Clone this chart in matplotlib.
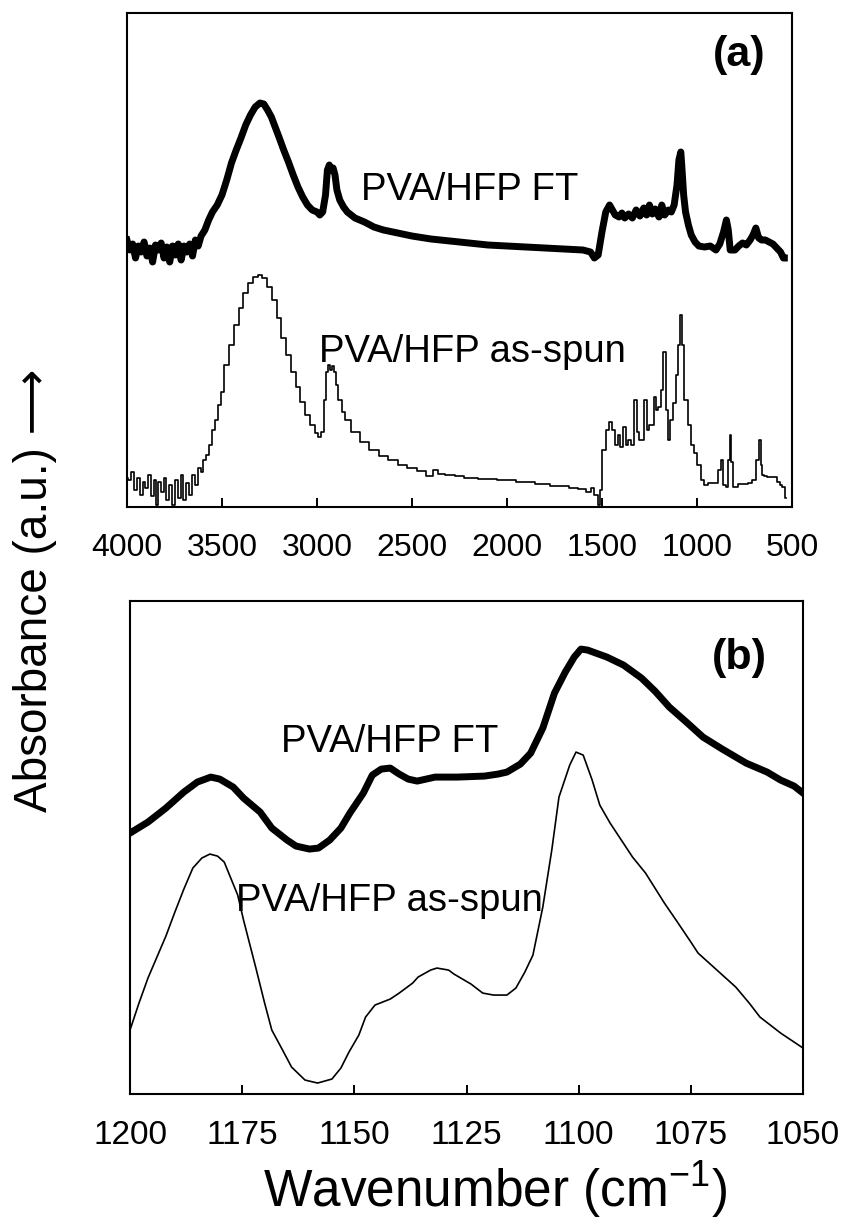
import matplotlib
matplotlib.use('Agg')
import matplotlib.pyplot as plt
import numpy as np

plt.rcParams['font.family'] = ['Liberation Sans', 'DejaVu Sans']
plt.rcParams['mathtext.fontset'] = 'custom'
plt.rcParams['mathtext.rm'] = 'Liberation Sans'

# panel (a) - full spectrum, absorbance in arbitrary units
wn_a_ft = [4000, 3985, 3970, 3955, 3940, 3925, 3910, 3895, 3880, 3865, 3850, 3835, 3820, 3805, 3790,
           3775, 3760, 3745, 3730, 3715, 3700, 3685, 3670, 3655, 3640, 3625, 3610, 3590, 3570, 3550,
           3525, 3500, 3475, 3450, 3425, 3400, 3375, 3350, 3325, 3300, 3280, 3260, 3240, 3220, 3200,
           3175, 3150, 3125, 3100, 3075, 3050, 3025, 3000, 2985, 2970, 2955, 2945, 2935, 2925, 2915,
           2905, 2895, 2880, 2860, 2840, 2800, 2750, 2700, 2650, 2600, 2500, 2400, 2300, 2200, 2100,
           2000, 1900, 1800, 1700, 1600, 1560, 1540, 1520, 1500, 1480, 1460, 1445, 1430, 1410, 1395,
           1380, 1360, 1340, 1320, 1300, 1280, 1265, 1250, 1235, 1220, 1200, 1185, 1170, 1150, 1135,
           1120, 1105, 1095, 1085, 1080, 1070, 1060, 1045, 1030, 1010, 990, 960, 930, 900, 880,
           860, 845, 835, 825, 800, 780, 760, 740, 720, 705, 690, 675, 660, 640, 620,
           600, 580, 560, 545, 540]
abs_a_ft = [267, 257, 263, 249, 261, 255, 265, 251, 259, 245, 262, 257, 264, 249, 260,
            245, 261, 252, 263, 247, 261, 255, 263, 251, 267, 261, 271, 277, 287, 295,
            302, 312, 327, 344, 357, 369, 382, 392, 400, 404, 403, 397, 390, 380, 370,
            357, 345, 332, 320, 310, 302, 297, 295, 292, 295, 312, 337, 342, 337, 339,
            332, 317, 307, 300, 295, 289, 285, 280, 277, 275, 271, 268, 266, 264, 262,
            261, 260, 259, 258, 257, 255, 249, 252, 275, 295, 302, 297, 292, 290, 294,
            289, 293, 289, 297, 291, 299, 292, 302, 293, 298, 290, 302, 292, 297, 295,
            302, 322, 347, 355, 342, 312, 295, 282, 272, 265, 261, 260, 261, 257, 263,
            275, 287, 277, 257, 257, 261, 264, 262, 267, 272, 279, 269, 267, 267, 265,
            263, 259, 255, 249, 249]

wn_a_as = [4000, 3985, 3970, 3955, 3940, 3925, 3910, 3895, 3880, 3865, 3850, 3840, 3830, 3815, 3800,
           3785, 3770, 3755, 3740, 3725, 3710, 3695, 3680, 3665, 3650, 3635, 3620, 3605, 3590, 3575,
           3560, 3545, 3530, 3515, 3500, 3475, 3450, 3425, 3400, 3375, 3350, 3325, 3300, 3275, 3250,
           3225, 3200, 3175, 3150, 3125, 3100, 3075, 3050, 3025, 3000, 2985, 2970, 2955, 2945, 2935,
           2925, 2915, 2905, 2895, 2880, 2860, 2840, 2800, 2750, 2700, 2650, 2600, 2550, 2500, 2450,
           2400, 2380, 2350, 2300, 2250, 2200, 2100, 2000, 1900, 1800, 1750, 1700, 1650, 1600, 1570,
           1550, 1530, 1515, 1505, 1490, 1470, 1455, 1440, 1425, 1410, 1395, 1380, 1370, 1355, 1340,
           1320, 1310, 1296, 1285, 1271, 1260, 1246, 1235, 1221, 1210, 1196, 1185, 1171, 1160, 1145,
           1135, 1120, 1105, 1095, 1083, 1075, 1057, 1040, 1020, 1007, 990, 970, 956, 930, 910,
           894, 880, 868, 855, 843, 833, 823, 815, 805, 793, 770, 750, 717, 700, 680,
           667, 660, 654, 640, 620, 592, 570, 560, 541, 530]
abs_a_as = [29, 27, 35, 17, 29, 12, 25, 19, 32, 11, 27, 2, 25, 15, 29,
            7, 22, 2, 27, 9, 32, 7, 24, 12, 32, 22, 39, 35, 47, 52,
            62, 77, 87, 102, 115, 142, 162, 182, 199, 214, 224, 230, 232, 229, 220,
            207, 189, 169, 152, 135, 120, 105, 92, 82, 74, 70, 75, 107, 135, 142,
            137, 141, 135, 122, 107, 95, 87, 75, 65, 57, 51, 47, 42, 39, 36,
            31, 37, 33, 32, 31, 29, 28, 27, 25, 23, 21, 21, 19, 18, 15,
            19, 12, 2, 17, 57, 77, 85, 77, 62, 72, 60, 80, 62, 67, 62,
            107, 75, 67, 67, 107, 77, 82, 82, 110, 97, 100, 117, 155, 97, 67,
            87, 104, 132, 162, 192, 162, 107, 82, 62, 54, 42, 27, 22, 24, 24,
            24, 37, 47, 22, 20, 47, 72, 45, 20, 20, 23, 23, 24, 27, 47,
            67, 42, 32, 31, 30, 30, 25, 22, 20, 9]

# panel (b) - 1200-1050 region
wn_b_ft = [1200, 1196, 1192, 1188, 1185, 1182, 1180, 1177, 1174.7, 1171, 1168.4, 1165, 1163, 1160,
           1158, 1155.5, 1153, 1151, 1148, 1146, 1144, 1142, 1140, 1138, 1136, 1134, 1132, 1127,
           1121, 1118, 1116, 1113, 1110.7, 1108, 1105.4, 1103, 1101, 1099.5, 1098, 1093.7, 1090,
           1086, 1083, 1079.8, 1076, 1072.3, 1068, 1062.7, 1058, 1055, 1052, 1050]
abs_b_ft = [261, 272, 286, 302, 312, 317, 315, 307, 296, 282, 266, 254, 248, 245,
            246, 254, 266, 281, 301, 319, 325, 326, 320, 315, 313, 315, 317, 317,
            318, 320, 322, 330, 341, 366, 401, 422, 437, 445, 444, 437, 429,
            416, 403, 387, 372, 357, 345, 331, 322, 314, 308, 301]

wn_b_as = [1200, 1198, 1196, 1194, 1192, 1190, 1188, 1186, 1184, 1182.2, 1180.5, 1179, 1178, 1176,
           1174.7, 1172, 1170, 1168.4, 1166, 1164, 1161, 1158.2, 1155, 1153, 1151.2, 1149, 1147.5,
           1145.4, 1142, 1140, 1137, 1135.8, 1133, 1131.6, 1129, 1127.8, 1124, 1121.4, 1119, 1116,
           1114, 1112, 1110.2, 1108, 1106, 1104.4, 1102, 1100.6, 1099, 1097, 1095.3, 1093, 1090.5,
           1088, 1085.1, 1083, 1080.9, 1078, 1075, 1073.4, 1069.2, 1065, 1062, 1059.6, 1055, 1052, 1050]
abs_b_as = [64, 91, 116, 137, 158, 182, 205, 226, 236, 240, 238, 232, 221, 199,
            174, 127, 91, 64, 44, 27, 14, 11, 15, 26, 42, 59, 77,
            89, 95, 101, 111, 117, 124, 126, 124, 120, 110, 101, 99, 99,
            106, 122, 139, 187, 244, 297, 329, 342, 339, 314, 289, 271, 254,
            237, 221, 206, 191, 172, 152, 141, 124, 107, 91, 77, 61, 52, 46]

ticks_a = [4000, 3500, 3000, 2500, 2000, 1500, 1000, 500]
ticks_b = [1200, 1175, 1150, 1125, 1100, 1075, 1050]


def style_axis(ax, xmin, xmax, ticks, ymax, size):
    ax.set_xlim(xmin, xmax)
    ax.set_ylim(0, ymax)
    ax.set_xticks(ticks)
    ax.set_yticks([])
    ax.tick_params(axis='x', direction='in', length=6.5, width=1.4, pad=19, labelsize=size)
    for s in ax.spines.values():
        s.set_linewidth(1.5)


fig = plt.figure(figsize=(8.47, 12.25), dpi=100)

ax1 = fig.add_axes([0.1499, 0.5861, 0.7851, 0.4033])
ax1.plot(wn_a_ft, abs_a_ft, color='black', lw=5, solid_joinstyle='round')
ax1.plot(wn_a_as, abs_a_as, color='black', lw=1.2, drawstyle='steps-mid')
style_axis(ax1, 4000, 500, ticks_a, 494, 23)
ax1.text(0.516, 0.642, 'PVA/HFP FT', transform=ax1.transAxes, fontsize=27.5, ha='center', va='center')
ax1.text(0.519, 0.314, 'PVA/HFP as-spun', transform=ax1.transAxes, fontsize=27.5, ha='center', va='center')
ax1.text(0.920, 0.915, '(a)', transform=ax1.transAxes, fontsize=31, fontweight='bold', ha='center', va='center')

ax2 = fig.add_axes([0.1535, 0.1069, 0.7946, 0.4024])
ax2.plot(wn_b_ft, abs_b_ft, color='black', lw=5, solid_joinstyle='round')
ax2.plot(wn_b_as, abs_b_as, color='black', lw=1.2)
style_axis(ax2, 1200, 1050, ticks_b, 493, 24)
ax2.text(0.386, 0.714, 'PVA/HFP FT', transform=ax2.transAxes, fontsize=27.5, ha='center', va='center')
ax2.text(0.386, 0.392, 'PVA/HFP as-spun', transform=ax2.transAxes, fontsize=27.5, ha='center', va='center')
ax2.text(0.906, 0.884, '(b)', transform=ax2.transAxes, fontsize=31, fontweight='bold', ha='center', va='center')

fig.text(0.041, 0.518, 'Absorbance (a.u.) \u27f6', rotation=90, fontsize=33, ha='center', va='center',
         family=['Liberation Sans', 'DejaVu Sans'])
fig.text(0.585, 0.0286, 'Wavenumber (cm$^{\u2212 1}$)', fontsize=37, ha='center', va='center')

fig.savefig('out.png', dpi=100)
